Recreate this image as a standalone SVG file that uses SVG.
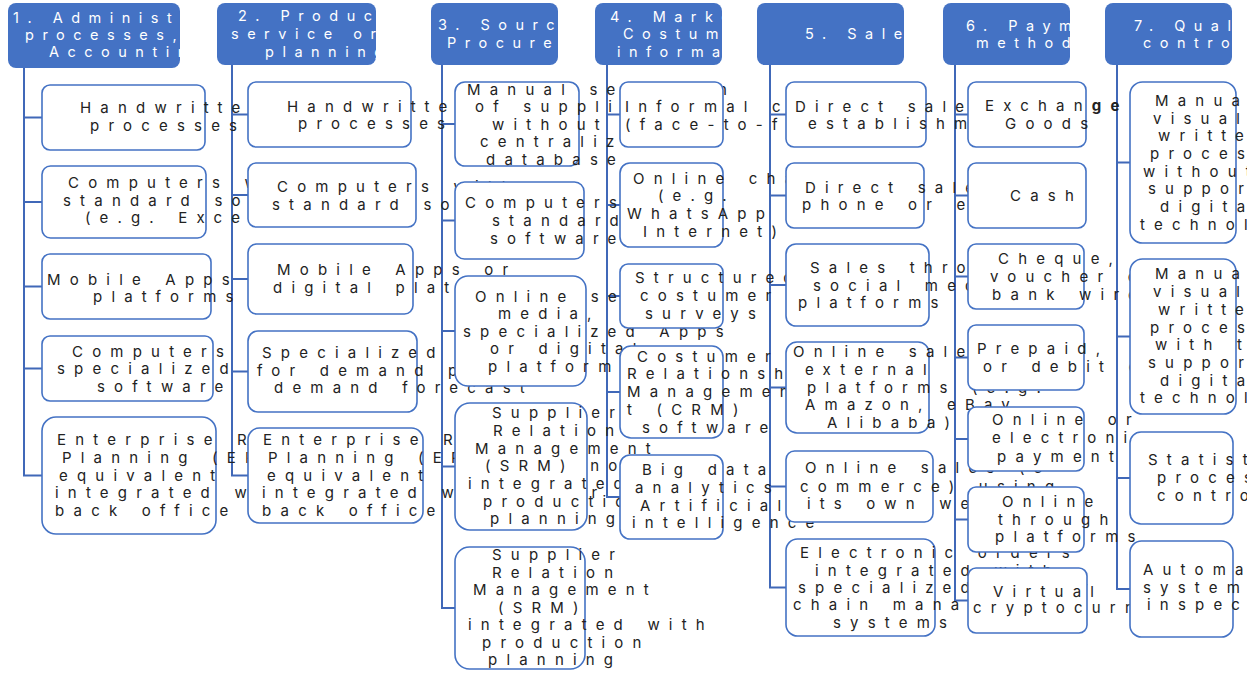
<svg xmlns="http://www.w3.org/2000/svg" width="1257" height="673" viewBox="0 0 1257 673">
<style>
.hd{fill:#4472C4}
.nd{fill:#fff;stroke:#4472C4;stroke-width:1.6}
.cn{fill:none;stroke:#4068B8;stroke-width:2}
text{font-family:Inter,"Liberation Sans",sans-serif;font-size:15px;letter-spacing:9.2px;word-spacing:2px}
.ht{fill:#fff;font-size:14.5px;letter-spacing:8.5px;word-spacing:0}
.bt{fill:#222}
</style>
<defs>
<clipPath id="c1" clipPathUnits="userSpaceOnUse"><rect x="8" y="3" width="172" height="65"/></clipPath>
<clipPath id="c2" clipPathUnits="userSpaceOnUse"><rect x="217" y="3" width="159" height="62"/></clipPath>
<clipPath id="c3" clipPathUnits="userSpaceOnUse"><rect x="431" y="3" width="127" height="62"/></clipPath>
<clipPath id="c4" clipPathUnits="userSpaceOnUse"><rect x="595" y="3" width="127" height="62"/></clipPath>
<clipPath id="c5" clipPathUnits="userSpaceOnUse"><rect x="757" y="3" width="147" height="62"/></clipPath>
<clipPath id="c6" clipPathUnits="userSpaceOnUse"><rect x="943" y="3" width="127" height="62"/></clipPath>
<clipPath id="c7" clipPathUnits="userSpaceOnUse"><rect x="1105" y="3" width="127" height="62"/></clipPath>
<clipPath id="page" clipPathUnits="userSpaceOnUse"><rect x="0" y="0" width="1247" height="673"/></clipPath>
</defs>
<rect width="1257" height="673" fill="#fff"/>
<g clip-path="url(#page)">
<!-- connectors: one trunk per column with branches to each item -->
<g id="connectors" class="cn">
<path d="M24 68V475.5H42M24 117.5H42M24 202H42M24 286.5H42M24 368.5H42"/>
<path d="M232 65V475.5H248M232 114.5H248M232 195H248M232 279H248M232 371.5H248"/>
<path d="M442 65V608H455M442 124H455M442 220.5H455M442 331H455M442 466.5H455"/>
<path d="M607 65V497H620M607 114.5H620M607 205H620M607 296H620M607 392H620"/>
<path d="M770 65V587.5H786M770 114.5H786M770 195.5H786M770 285H786M770 387.5H786M770 486.5H786"/>
<path d="M955 65V600.5H968M955 114.5H968M955 195.5H968M955 276.5H968M955 357.5H968M955 439H968M955 519.5H968"/>
<path d="M1117 65V589H1130M1117 162.5H1130M1117 336.5H1130M1117 478H1130"/>
</g>

<!-- column headers -->
<g id="h1"><rect class="hd" x="8" y="3" width="172" height="65" rx="8"/>
<text class="ht" clip-path="url(#c1)"><tspan x="13" y="22.5">1. Administrative</tspan><tspan x="25" y="40">processes,</tspan><tspan x="49" y="57.3">Accounting</tspan></text></g>
<g id="h2"><rect class="hd" x="217" y="3" width="159" height="62" rx="8"/>
<text class="ht" clip-path="url(#c2)"><tspan x="238" y="21">2. Production of</tspan><tspan x="231" y="38.5">service or</tspan><tspan x="265" y="56.5">planning</tspan></text></g>
<g id="h3"><rect class="hd" x="431" y="3" width="127" height="62" rx="8"/>
<text class="ht" clip-path="url(#c3)"><tspan x="438" y="30">3. Sourcing and</tspan><tspan x="447" y="48">Procurement</tspan></text></g>
<g id="h4"><rect class="hd" x="595" y="3" width="127" height="62" rx="8"/>
<text class="ht" clip-path="url(#c4)"><tspan x="610" y="21.5">4. Marketing and</tspan><tspan x="623" y="39">Costumer</tspan><tspan x="617" y="57">information</tspan></text></g>
<g id="h5"><rect class="hd" x="757" y="3" width="147" height="62" rx="8"/>
<text class="ht" clip-path="url(#c5)"><tspan x="805" y="39">5. Sales</tspan></text></g>
<g id="h6"><rect class="hd" x="943" y="3" width="127" height="62" rx="8"/>
<text class="ht" clip-path="url(#c6)"><tspan x="966" y="30.5">6. Payment</tspan><tspan x="976" y="48">methods</tspan></text></g>
<g id="h7"><rect class="hd" x="1105" y="3" width="127" height="62" rx="8"/>
<text class="ht" clip-path="url(#c7)"><tspan x="1134" y="30.5">7. Quality</tspan><tspan x="1143" y="48">control</tspan></text></g>

<!-- column 1 -->
<g id="n1-1"><rect class="nd" x="42" y="85" width="163" height="65" rx="8"/>
<text class="bt"><tspan x="80" y="113">Handwritten</tspan><tspan x="90" y="130.5">processes</tspan></text></g>
<g id="n1-2"><rect class="nd" x="42" y="166" width="164" height="72" rx="8.5"/>
<text class="bt"><tspan x="68" y="188">Computers with</tspan><tspan x="63" y="205.5">standard software</tspan><tspan x="85" y="223">(e.g. Excel)</tspan></text></g>
<g id="n1-3"><rect class="nd" x="42" y="254" width="169" height="65" rx="8"/>
<text class="bt"><tspan x="47" y="285">Mobile Apps or</tspan><tspan x="93" y="302">platforms</tspan></text></g>
<g id="n1-4"><rect class="nd" x="42" y="336" width="171" height="65" rx="8"/>
<text class="bt"><tspan x="72" y="356.5">Computers with</tspan><tspan x="57" y="374">specialized</tspan><tspan x="97" y="391.5">software</tspan></text></g>
<g id="n1-5"><rect class="nd" x="42" y="417" width="174" height="117" rx="14"/>
<text class="bt"><tspan x="57" y="445">Enterprise Resource</tspan><tspan x="62" y="463">Planning (ERP) or</tspan><tspan x="59" y="480.5">equivalent</tspan><tspan x="55" y="498">integrated with other</tspan><tspan x="55" y="516">back office systems</tspan></text></g>

<!-- column 2 -->
<g id="n2-1"><rect class="nd" x="248" y="82" width="163" height="65" rx="8"/>
<text class="bt"><tspan x="287" y="111.5">Handwritten</tspan><tspan x="298" y="129">processes</tspan></text></g>
<g id="n2-2"><rect class="nd" x="248" y="163" width="168" height="64" rx="8"/>
<text class="bt"><tspan x="277" y="192">Computers with</tspan><tspan x="272" y="209.5">standard software</tspan></text></g>
<g id="n2-3"><rect class="nd" x="248" y="244" width="165" height="70" rx="8.5"/>
<text class="bt"><tspan x="277" y="275">Mobile Apps or</tspan><tspan x="273" y="293">digital platforms</tspan></text></g>
<g id="n2-4"><rect class="nd" x="248" y="331" width="169" height="81" rx="10"/>
<text class="bt"><tspan x="262" y="358">Specialized software</tspan><tspan x="257" y="376">for demand planning</tspan><tspan x="274" y="393">demand forecast</tspan></text></g>
<g id="n2-5"><rect class="nd" x="248" y="428" width="175" height="95" rx="11.5"/>
<text class="bt"><tspan x="263" y="445">Enterprise Resource</tspan><tspan x="268" y="463">Planning (ERP) or</tspan><tspan x="267" y="481">equivalent</tspan><tspan x="262" y="498">integrated with other</tspan><tspan x="262" y="516">back office systems</tspan></text></g>

<!-- column 3 -->
<g id="n3-1"><rect class="nd" x="455" y="82" width="124" height="84" rx="10"/>
<text class="bt"><tspan x="467" y="94.5">Manual selection</tspan><tspan x="475" y="112">of suppliers</tspan><tspan x="492" y="129.5">without</tspan><tspan x="480" y="147">centralized</tspan><tspan x="486" y="164.5">database</tspan></text></g>
<g id="n3-2"><rect class="nd" x="455" y="182" width="129" height="77" rx="9.5"/>
<text class="bt"><tspan x="465" y="208">Computers with</tspan><tspan x="492" y="226">standard</tspan><tspan x="490" y="244">software</tspan></text></g>
<g id="n3-3"><rect class="nd" x="455" y="276" width="131" height="110" rx="13"/>
<text class="bt"><tspan x="475" y="301.5">Online search</tspan><tspan x="498" y="319">media,</tspan><tspan x="463" y="336.5">specialized Apps</tspan><tspan x="490" y="354">or digital</tspan><tspan x="488" y="371.5">platforms</tspan></text></g>
<g id="n3-4"><rect class="nd" x="455" y="403" width="132" height="127" rx="15"/>
<text class="bt"><tspan x="492" y="418">Supplier</tspan><tspan x="493" y="436">Relation</tspan><tspan x="475" y="453.5">Management</tspan><tspan x="485" y="471">(SRM) not</tspan><tspan x="468" y="489">integrated with</tspan><tspan x="483" y="506.5">production</tspan><tspan x="490" y="524">planning</tspan></text></g>
<g id="n3-5"><rect class="nd" x="455" y="547" width="130" height="122" rx="14.5"/>
<text class="bt"><tspan x="492" y="560">Supplier</tspan><tspan x="492" y="577.5">Relation</tspan><tspan x="473" y="595">Management</tspan><tspan x="498" y="613">(SRM)</tspan><tspan x="468" y="630">integrated with</tspan><tspan x="482" y="648">production</tspan><tspan x="488" y="665">planning</tspan></text></g>

<!-- column 4 -->
<g id="n4-1"><rect class="nd" x="620" y="82" width="103" height="65" rx="8"/>
<text class="bt"><tspan x="625" y="112">Informal contacts</tspan><tspan x="625" y="129.5">(face-to-face)</tspan></text></g>
<g id="n4-2"><rect class="nd" x="620" y="163" width="103" height="84" rx="10"/>
<text class="bt"><tspan x="633" y="183.5">Online chats</tspan><tspan x="658" y="201">(e.g.</tspan><tspan x="627" y="219">WhatsApp or</tspan><tspan x="643" y="237">Internet)</tspan></text></g>
<g id="n4-3"><rect class="nd" x="620" y="264" width="103" height="64" rx="8"/>
<text class="bt"><tspan x="635" y="283">Structured</tspan><tspan x="640" y="301">costumer</tspan><tspan x="645" y="319">surveys</tspan></text></g>
<g id="n4-4"><rect class="nd" x="620" y="346" width="103" height="92" rx="11"/>
<text class="bt"><tspan x="637" y="361.5">Costumer</tspan><tspan x="627" y="379">Relationship</tspan><tspan x="627" y="397">Managemen</tspan><tspan x="627" y="415">t (CRM)</tspan><tspan x="642" y="432.5">software</tspan></text></g>
<g id="n4-5"><rect class="nd" x="620" y="455" width="103" height="84" rx="10"/>
<text class="bt"><tspan x="642" y="475">Big data</tspan><tspan x="635" y="493">analytics /</tspan><tspan x="640" y="511">Artificial</tspan><tspan x="632" y="528">intelligence</tspan></text></g>

<!-- column 5 -->
<g id="n5-1"><rect class="nd" x="786" y="82" width="140" height="65" rx="8"/>
<text class="bt"><tspan x="795" y="111.5">Direct sales in</tspan><tspan x="808" y="128.5">establishment</tspan></text></g>
<g id="n5-2"><rect class="nd" x="786" y="163" width="138" height="65" rx="8"/>
<text class="bt"><tspan x="805" y="192.5">Direct sales by</tspan><tspan x="802" y="210">phone or e-mail</tspan></text></g>
<g id="n5-3"><rect class="nd" x="786" y="244" width="143" height="82" rx="10"/>
<text class="bt"><tspan x="810" y="273">Sales through</tspan><tspan x="813" y="290.5">social media</tspan><tspan x="798" y="308">platforms</tspan></text></g>
<g id="n5-4"><rect class="nd" x="786" y="342" width="143" height="91" rx="11"/>
<text class="bt"><tspan x="793" y="357">Online sales on</tspan><tspan x="805" y="375">external</tspan><tspan x="807" y="393">platforms (e.g.</tspan><tspan x="805" y="410">Amazon, eBay,</tspan><tspan x="827" y="428">Alibaba)</tspan></text></g>
<g id="n5-5"><rect class="nd" x="786" y="451" width="147" height="71" rx="8.5"/>
<text class="bt"><tspan x="805" y="473">Online sales (e-</tspan><tspan x="800" y="491.5">commerce) using</tspan><tspan x="807" y="508.5">its own website</tspan></text></g>
<g id="n5-6"><rect class="nd" x="786" y="539" width="149" height="97" rx="11.5"/>
<text class="bt"><tspan x="800" y="558">Electronic orders</tspan><tspan x="815" y="575.5">integrated with</tspan><tspan x="798" y="592.5">specialized supply</tspan><tspan x="793" y="610">chain management</tspan><tspan x="833" y="628">systems</tspan></text></g>

<!-- column 6 -->
<g id="n6-1"><rect class="nd" x="968" y="82" width="118" height="65" rx="8"/>
<text class="bt"><tspan x="985" y="111">Exchan<tspan font-weight="bold">ge</tspan> of</tspan><tspan x="1005" y="128.5">Goods</tspan></text></g>
<g id="n6-2"><rect class="nd" x="968" y="163" width="118" height="65" rx="8"/>
<text class="bt"><tspan x="1010" y="201">Cash</tspan></text></g>
<g id="n6-3"><rect class="nd" x="968" y="244" width="116" height="65" rx="8"/>
<text class="bt"><tspan x="998" y="264">Cheque,</tspan><tspan x="990" y="281.5">voucher or</tspan><tspan x="992" y="300">bank wire</tspan></text></g>
<g id="n6-4"><rect class="nd" x="968" y="325" width="116" height="65" rx="8"/>
<text class="bt"><tspan x="977" y="354">Prepaid,</tspan><tspan x="983" y="371.5">or debit cards</tspan></text></g>
<g id="n6-5"><rect class="nd" x="968" y="407" width="116" height="64" rx="8"/>
<text class="bt"><tspan x="992" y="425">Online or</tspan><tspan x="992" y="443">electronic</tspan><tspan x="997" y="461.5">payment</tspan></text></g>
<g id="n6-6"><rect class="nd" x="968" y="487" width="116" height="65" rx="8"/>
<text class="bt"><tspan x="1002" y="506.5">Online</tspan><tspan x="998" y="524.5">through</tspan><tspan x="995" y="542">platforms</tspan></text></g>
<g id="n6-7"><rect class="nd" x="968" y="568" width="119" height="65" rx="8"/>
<text class="bt"><tspan x="993" y="596.5">Virtual</tspan><tspan x="973" y="613">cryptocurrency</tspan></text></g>

<!-- column 7 -->
<g id="n7-1"><rect class="nd" x="1130" y="82" width="106" height="161" rx="12.5"/>
<text class="bt"><tspan x="1155" y="106">Manual,</tspan><tspan x="1153" y="123.7">visual or</tspan><tspan x="1158" y="141.3">written</tspan><tspan x="1150" y="159">processes</tspan><tspan x="1143" y="176.6">without the</tspan><tspan x="1148" y="194.3">support of</tspan><tspan x="1160" y="212">digital</tspan><tspan x="1140" y="229.6">technology</tspan></text></g>
<g id="n7-2"><rect class="nd" x="1130" y="259" width="106" height="155" rx="12.5"/>
<text class="bt"><tspan x="1155" y="279.3">Manual,</tspan><tspan x="1153" y="296.7">visual or</tspan><tspan x="1158" y="315">written</tspan><tspan x="1150" y="332.7">processes</tspan><tspan x="1155" y="350">with the</tspan><tspan x="1148" y="368.3">support of</tspan><tspan x="1160" y="386">digital</tspan><tspan x="1140" y="403.3">technology</tspan></text></g>
<g id="n7-3"><rect class="nd" x="1130" y="432" width="103" height="92" rx="11"/>
<text class="bt"><tspan x="1148" y="465">Statistical</tspan><tspan x="1157" y="483.3">process</tspan><tspan x="1157" y="500.7">control</tspan></text></g>
<g id="n7-4"><rect class="nd" x="1130" y="541" width="103" height="96" rx="11.5"/>
<text class="bt"><tspan x="1143" y="575">Automated</tspan><tspan x="1143" y="593.3">systems of</tspan><tspan x="1147" y="610">inspection</tspan></text></g>
</g>
</svg>
